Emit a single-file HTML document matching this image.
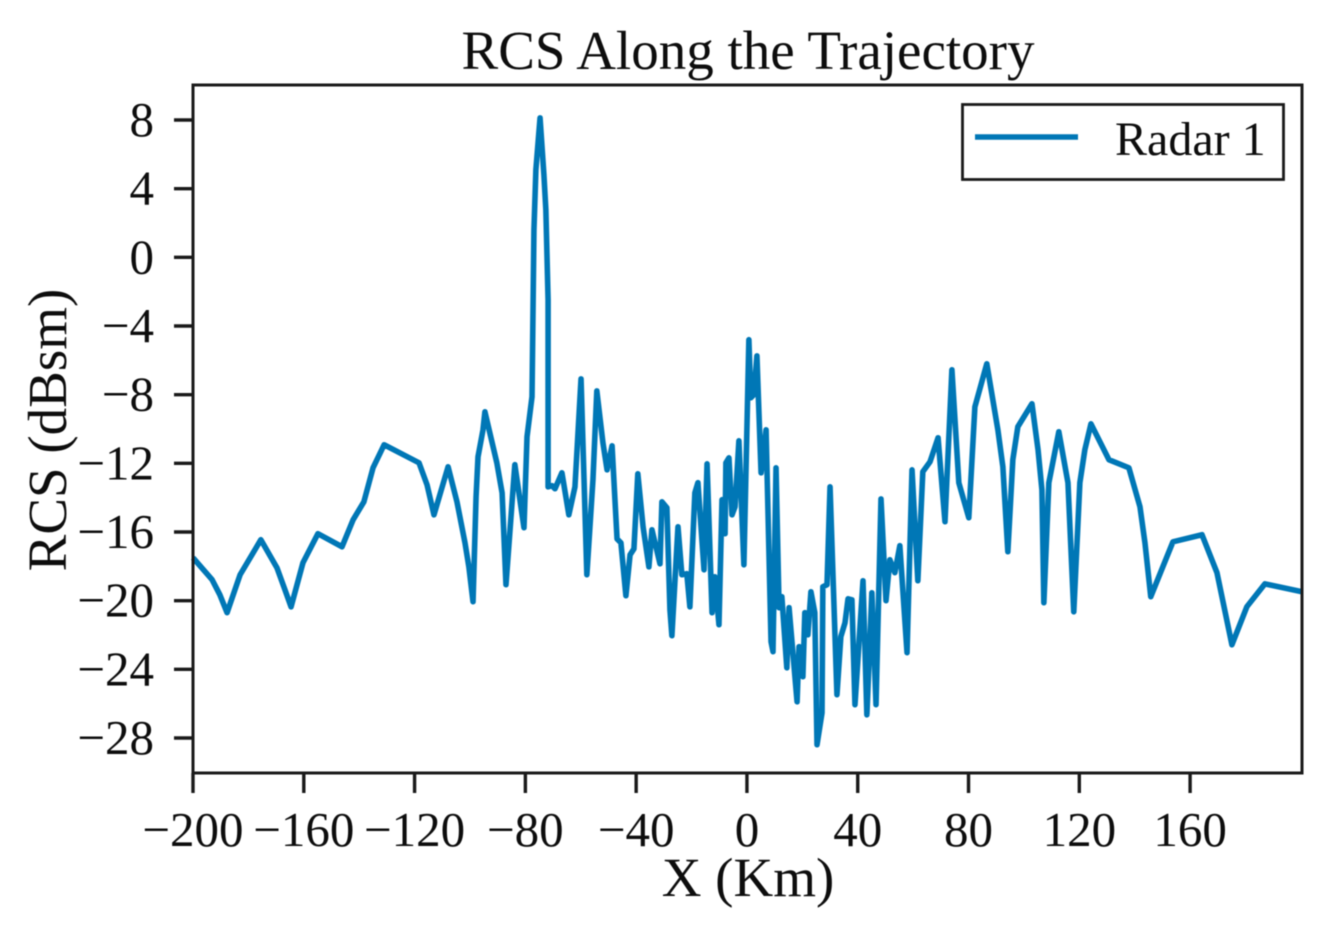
<!DOCTYPE html>
<html lang="en">
<head>
<meta charset="utf-8">
<title>RCS Along the Trajectory</title>
<style>
html,body{margin:0;padding:0;background:#fff;width:1324px;height:935px;overflow:hidden}
svg{display:block;filter:blur(0.5px)}
text{font-family:"Liberation Serif",serif;fill:#0d0d0d}
</style>
</head>
<body>
<svg id="chart" xmlns="http://www.w3.org/2000/svg" width="1324" height="935" viewBox="0 0 1324 935">
  <rect x="0" y="0" width="1324" height="935" fill="#fff"/>
  <text x="748" y="69" font-size="55" text-anchor="middle">RCS Along the Trajectory</text>
  <g id="series"></g>
  <rect x="193" y="85" width="1109" height="688" fill="none" stroke="#1a1a1a" stroke-width="3"/>
  <g id="xticks"></g>
  <g id="yticks"></g>
  <text x="748" y="896" font-size="55" text-anchor="middle">X (Km)</text>
  <text x="0" y="0" font-size="55" text-anchor="middle" transform="translate(66,430) rotate(-90)">RCS (dBsm)</text>
  <g>
    <rect x="962.5" y="104.5" width="321" height="75" fill="#fff" stroke="#1a1a1a" stroke-width="2.8"/>
    <line x1="975" y1="137" x2="1078" y2="137" stroke="#0077b6" stroke-width="5.6"/>
    <text x="1115" y="155" font-size="48">Radar 1</text>
  </g>
</svg>
<script>
const xTickValues = [-200,-160,-120,-80,-40,0,40,80,120,160];
const xTickLabels = ["\u2212200","\u2212160","\u2212120","\u221280","\u221240","0","40","80","120","160"];
const yTickValues = [8,4,0,-4,-8,-12,-16,-20,-24,-28];
const yTickLabels = ["8","4","0","\u22124","\u22128","\u221212","\u221216","\u221220","\u221224","\u221228"];
const seriesName = "Radar 1";
const distanceKm = [
-200,-193.1,-190.3,-187.7,-183,-175.5,-169.7,-166.8,-164.6,-160.3,
-154.9,-146.2,-142.2,-138.3,-135,-131,-118.4,-115.5,-113,-107.9,
-104.7,-101.8,-100.4,-98.9,-97.8,-97.1,-95.3,-94.6,-90.3,-88.4,
-87,-83.8,-80.5,-79.4,-77.6,-76.9,-76.2,-74.7,-73.3,-72.6,
-71.8,-71.8,-70.4,-69.3,-66.8,-64.3,-62.1,-59.9,-57.8,-55.6,
-54.2,-52,-50.5,-48.7,-46.9,-45.5,-43.7,-42.2,-40.8,-39.4,
-37.5,-35.4,-34.3,-31.4,-30.7,-28.9,-27.8,-27.1,-24.9,-23.5,
-21.7,-20.6,-18.8,-17.7,-15.5,-14.4,-12.6,-11.6,-10.1,-9,
-7.9,-7.6,-6.5,-5.4,-4.3,-2.9,-1.1,0.7,1.4,2.5,
3.6,5.1,6.9,8.7,9.4,10.5,11.6,12.6,14.4,15.2,
18.1,18.8,20.2,20.9,22,23.1,24.5,25.3,27.1,27.4,
28.9,30,32.5,33.9,35.4,36.5,37.9,39,41.9,43.3,
45.1,46.6,48.4,50.2,51.6,53.4,55.2,57.8,59.6,61.7,
63.5,66.1,69,71.5,74,76.5,80.1,82.3,86.6,90.6,
92.4,94.2,96,97.8,102.9,105.1,106.5,107.2,109,112.6,
115.9,118,120.2,122,124.2,130.7,137.9,141.9,143.7,145.8,
153.8,164.3,169.7,175.1,180.5,187,200.4];
const rcsDbsm = [
-17.5,-18.78,-19.66,-20.7,-18.49,-16.45,-18.08,-19.37,-20.36,-17.79,
-16.1,-16.86,-15.29,-14.24,-12.26,-10.92,-11.97,-13.25,-15,-12.2,
-14.24,-16.63,-18.03,-20.06,-13.95,-11.62,-10.05,-9,-11.97,-13.72,
-19.07,-12.08,-15.75,-10.45,-8.12,1.6,5.1,8.12,4.8,2.77,
-2.48,-13.37,-13.3,-13.48,-12.55,-15,-13.37,-7.08,-18.49,-12.96,
-7.78,-10.8,-12.38,-10.98,-16.4,-16.63,-19.71,-17.33,-16.98,-12.61,
-15.7,-18.03,-15.87,-17.85,-14.24,-14.59,-20.53,-22.04,-15.7,-18.49,
-18.43,-20.36,-13.72,-13.13,-18.2,-12.03,-20.7,-18.61,-21.4,-14.12,
-16.1,-11.97,-11.68,-15,-14.53,-10.69,-17.91,-4.8,-8.18,-8,
-5.74,-12.55,-10.05,-22.39,-22.97,-12.26,-20.41,-19.77,-23.91,-20.41,
-25.89,-22.68,-24.43,-20.7,-21.99,-19.48,-20.7,-28.39,-26.53,-19.19,
-19.07,-13.37,-25.48,-22.1,-21.29,-19.89,-19.95,-26.06,-18.84,-26.65,
-19.54,-26.06,-14.07,-20,-17.62,-18.37,-16.8,-23.03,-12.38,-18.84,
-12.49,-11.91,-10.51,-15.4,-6.55,-13.13,-15.17,-8.71,-6.2,-10.05,
-12.2,-17.15,-11.79,-9.87,-8.53,-11.21,-13.54,-20.12,-13.13,-10.16,
-13.13,-20.65,-13.13,-11.21,-9.7,-11.79,-12.26,-14.53,-16.63,-19.77,
-16.57,-16.16,-18.37,-22.57,-20.35,-19.02,-19.48];

const SVG_NS = "http://www.w3.org/2000/svg";
const plot = { left: 193, right: 1302, top: 85, bottom: 773 };
const xDomain = [-200, 200.4];
const yRef = [8, -28];
const yRefPx = [120, 738];

function xScale(v) {
  return plot.left + (v - xDomain[0]) / (xDomain[1] - xDomain[0]) * (plot.right - plot.left);
}
function yScale(v) {
  return yRefPx[0] + (v - yRef[0]) / (yRef[1] - yRef[0]) * (yRefPx[1] - yRefPx[0]);
}
function make(tag, attrs, parent) {
  const el = document.createElementNS(SVG_NS, tag);
  for (const k in attrs) el.setAttribute(k, attrs[k]);
  parent.appendChild(el);
  return el;
}

const seriesLayer = document.getElementById("series");
const points = distanceKm.map(function (x, i) {
  return xScale(x).toFixed(2) + "," + yScale(rcsDbsm[i]).toFixed(2);
}).join(" ");
const seriesLine = make("polyline", { points: points, fill: "none", stroke: "#0077b6", "stroke-width": 5.6, "stroke-linejoin": "round", "stroke-linecap": "butt" }, seriesLayer);



const xTicksLayer = document.getElementById("xticks");
xTickValues.forEach(function (v, i) {
  const px = xScale(v);
  const tick = make("line", { x1: px, x2: px, y1: plot.bottom, y2: plot.bottom + 20, stroke: "#1a1a1a", "stroke-width": 3.4 }, xTicksLayer);
  
  
  const label = make("text", { x: px, y: 846, "font-size": 49, "text-anchor": "middle" }, xTicksLayer);
  label.textContent = xTickLabels[i];
  
  
});

const yTicksLayer = document.getElementById("yticks");
yTickValues.forEach(function (v, i) {
  const py = yScale(v);
  const tick = make("line", { x1: plot.left - 19, x2: plot.left, y1: py, y2: py, stroke: "#1a1a1a", "stroke-width": 3.4 }, yTicksLayer);
  
  
  const label = make("text", { x: 154, y: py + 16, "font-size": 49, "text-anchor": "end" }, yTicksLayer);
  label.textContent = yTickLabels[i];
  
  
});
</script>
</body>
</html>
